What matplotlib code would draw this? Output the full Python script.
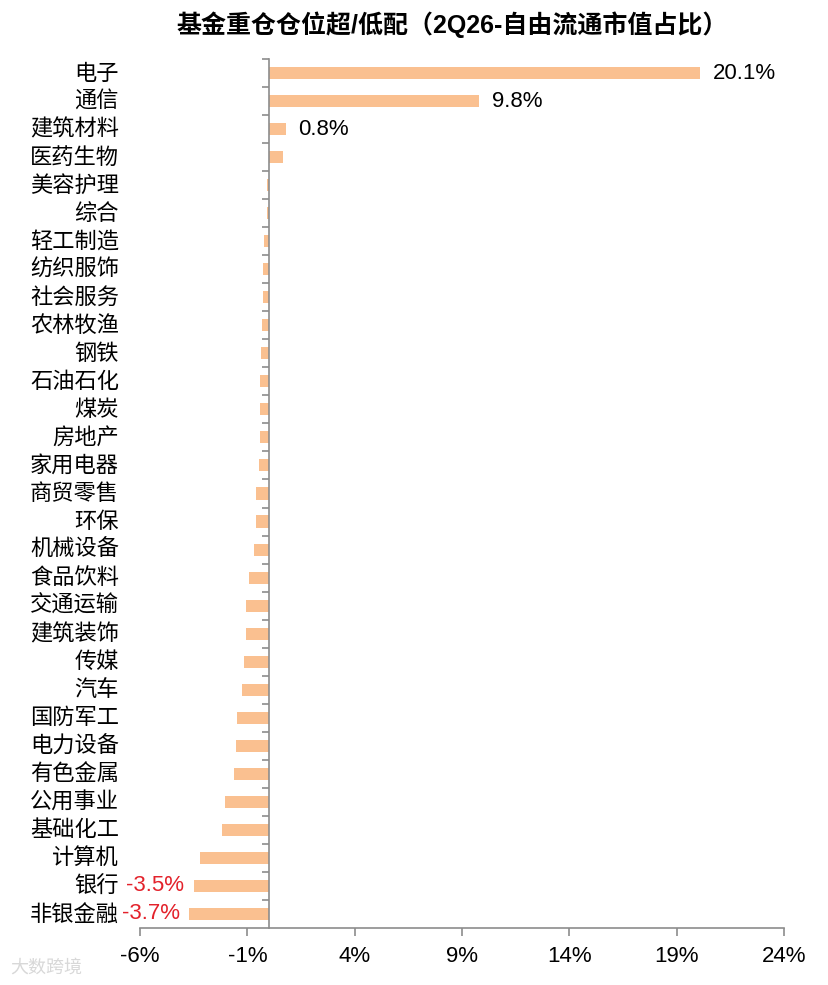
import matplotlib
matplotlib.use('Agg')
import matplotlib.pyplot as plt
from matplotlib.ticker import FixedLocator

plt.rcParams['font.family'] = ['Liberation Sans', 'Noto Sans CJK SC', 'DejaVu Sans']

# data, top to bottom
industries = ['电子', '通信', '建筑材料', '医药生物', '美容护理', '综合', '轻工制造',
              '纺织服饰', '社会服务', '农林牧渔', '钢铁', '石油石化', '煤炭', '房地产',
              '家用电器', '商贸零售', '环保', '机械设备', '食品饮料', '交通运输',
              '建筑装饰', '传媒', '汽车', '国防军工', '电力设备', '有色金属',
              '公用事业', '基础化工', '计算机', '银行', '非银金融']
overweight = [20.1, 9.8, 0.8, 0.65, -0.07, -0.08, -0.22,
              -0.25, -0.28, -0.32, -0.35, -0.39, -0.41, -0.43,
              -0.45, -0.58, -0.6, -0.7, -0.9, -1.04,
              -1.07, -1.16, -1.26, -1.46, -1.54, -1.61,
              -2.04, -2.18, -3.2, -3.5, -3.7]
labelled = ['电子', '通信', '建筑材料', '银行', '非银金融']
x_ticks = [-6, -1, 4, 9, 14, 19, 24]

bar_color = '#FAC090'
axis_color = '#8C8C8C'
red = '#E3222B'

fig = plt.figure(figsize=(8.29, 9.85), dpi=100)
ax = fig.add_axes([0.1689, 0.0579, 0.7768, 0.8822])

y = list(range(len(industries)))
ax.barh(y, overweight, height=0.43, color=bar_color, zorder=2)

ax.set_xlim(-6, 24)
ax.set_ylim(len(industries) - 0.5, -0.5)

# axis styling
for s in ['top', 'right']:
    ax.spines[s].set_visible(False)
ax.spines['left'].set_position(('data', 0))
ax.spines['left'].set_color(axis_color)
ax.spines['bottom'].set_color(axis_color)
ax.spines['left'].set_linewidth(1.2)
ax.spines['bottom'].set_linewidth(1.2)

ax.set_xticks(x_ticks)
ax.set_xticklabels([f'{t}%' for t in x_ticks], fontsize=16)
ax.tick_params(axis='x', direction='out', length=6, width=1.2, color=axis_color, pad=7)

ax.set_yticks([])
ax.yaxis.set_minor_locator(FixedLocator([i - 0.5 for i in range(len(industries))]))
ax.tick_params(axis='y', which='minor', direction='out', length=5, width=1.2,
               color=axis_color, labelleft=False)

# category labels at the low side
for i, name in enumerate(industries):
    ax.text(-0.0326, i, name, transform=ax.get_yaxis_transform(), ha='right',
            va='center', fontsize=16, family=['Noto Sans CJK SC'])

# data labels
for i, (name, v) in enumerate(zip(industries, overweight)):
    if name not in labelled:
        continue
    if v >= 0:
        ax.annotate(f'{v:.1f}%', xy=(v, i), xytext=(9, 0), textcoords='offset points',
                    ha='left', va='center', fontsize=16, color='black')
    else:
        ax.annotate(f'{v:.1f}%', xy=(v, i), xytext=(-7, 0), textcoords='offset points',
                    ha='right', va='center', fontsize=16, color=red)

fig.text(0.545, 0.9746, '基金重仓仓位超/低配（2Q26-自由流通市值占比）', ha='center',
         va='center', fontsize=18, fontweight='bold')

# faint watermark
fig.text(0.012, 0.018, '大数跨境', fontsize=13, color='#D8D8D8',
         family=['Noto Sans CJK SC'], ha='left', va='center')

fig.savefig('out.png', dpi=100)
